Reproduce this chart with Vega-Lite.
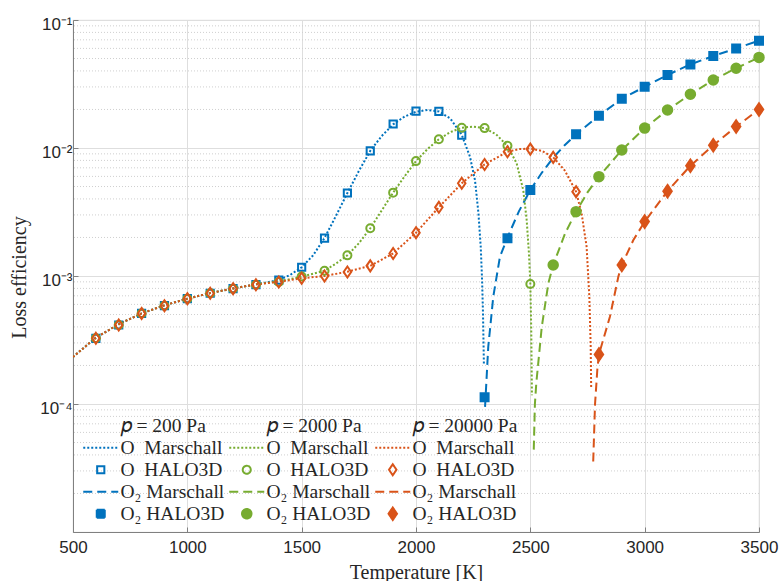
{
  "$schema": "https://vega.github.io/schema/vega-lite/v6.json",
  "width": 686,
  "height": 512,
  "autosize": {"type": "none"},
  "padding": {"left": 73, "top": 20, "right": 22, "bottom": 49},
  "background": "white",
  "config": {
    "view": {"stroke": "#e2e2e2", "strokeWidth": 1.2},
    "axis": {
      "labelFont": "Liberation Sans",
      "labelFontSize": 17,
      "labelColor": "#262626",
      "titleFont": "Liberation Serif",
      "titleFontSize": 20,
      "titleFontWeight": "normal",
      "titleColor": "#262626",
      "domainColor": "#808080",
      "gridColor": "#dedede",
      "gridWidth": 1,
      "ticks": true,
      "tickSize": -5,
      "tickColor": "#808080"
    },
    "legend": {
      "labelFont": "Liberation Serif",
      "labelFontSize": 19.5,
      "labelColor": "#262626"
    }
  },
  "datasets": {
    "minor": [
      {"v": 2e-5}, {"v": 3e-5}, {"v": 4e-5}, {"v": 5e-5}, {"v": 6e-5}, {"v": 7e-5}, {"v": 8e-5}, {"v": 9e-5},
      {"v": 2e-4}, {"v": 3e-4}, {"v": 4e-4}, {"v": 5e-4}, {"v": 6e-4}, {"v": 7e-4}, {"v": 8e-4}, {"v": 9e-4},
      {"v": 2e-3}, {"v": 3e-3}, {"v": 4e-3}, {"v": 5e-3}, {"v": 6e-3}, {"v": 7e-3}, {"v": 8e-3}, {"v": 9e-3},
      {"v": 2e-2}, {"v": 3e-2}, {"v": 4e-2}, {"v": 5e-2}, {"v": 6e-2}, {"v": 7e-2}, {"v": 8e-2}, {"v": 9e-2}
    ],
    "marschall": [
      {"k": "OM200", "T": 500, "v": 2.33e-4}, {"k": "OM200", "T": 600, "v": 3.3e-4}, {"k": "OM200", "T": 700, "v": 4.2e-4},
      {"k": "OM200", "T": 800, "v": 5.1e-4}, {"k": "OM200", "T": 900, "v": 5.9e-4}, {"k": "OM200", "T": 1000, "v": 6.65e-4},
      {"k": "OM200", "T": 1100, "v": 7.35e-4}, {"k": "OM200", "T": 1200, "v": 8.0e-4}, {"k": "OM200", "T": 1300, "v": 8.6e-4},
      {"k": "OM200", "T": 1400, "v": 9.3e-4}, {"k": "OM200", "T": 1450, "v": 1.02e-3}, {"k": "OM200", "T": 1500, "v": 1.17e-3},
      {"k": "OM200", "T": 1550, "v": 1.45e-3}, {"k": "OM200", "T": 1600, "v": 1.98e-3}, {"k": "OM200", "T": 1650, "v": 2.95e-3},
      {"k": "OM200", "T": 1700, "v": 4.45e-3}, {"k": "OM200", "T": 1750, "v": 6.6e-3}, {"k": "OM200", "T": 1800, "v": 9.5e-3},
      {"k": "OM200", "T": 1850, "v": 1.24e-2}, {"k": "OM200", "T": 1900, "v": 1.53e-2}, {"k": "OM200", "T": 1950, "v": 1.76e-2},
      {"k": "OM200", "T": 2000, "v": 1.92e-2}, {"k": "OM200", "T": 2050, "v": 1.98e-2}, {"k": "OM200", "T": 2100, "v": 1.93e-2},
      {"k": "OM200", "T": 2150, "v": 1.7e-2}, {"k": "OM200", "T": 2200, "v": 1.27e-2}, {"k": "OM200", "T": 2236, "v": 8.55e-3},
      {"k": "OM200", "T": 2258, "v": 5.6e-3}, {"k": "OM200", "T": 2273, "v": 3.1e-3}, {"k": "OM200", "T": 2283, "v": 1.7e-3},
      {"k": "OM200", "T": 2289, "v": 9.3e-4}, {"k": "OM200", "T": 2293, "v": 5.1e-4}, {"k": "OM200", "T": 2297, "v": 2.0e-4},

      {"k": "DM200", "T": 2302, "v": 9.5e-5}, {"k": "DM200", "T": 2316, "v": 2.8e-4}, {"k": "DM200", "T": 2338, "v": 6.9e-4},
      {"k": "DM200", "T": 2367, "v": 1.41e-3}, {"k": "DM200", "T": 2400, "v": 2.0e-3}, {"k": "DM200", "T": 2450, "v": 3.2e-3},
      {"k": "DM200", "T": 2500, "v": 4.7e-3}, {"k": "DM200", "T": 2550, "v": 6.4e-3}, {"k": "DM200", "T": 2600, "v": 8.4e-3},
      {"k": "DM200", "T": 2650, "v": 1.05e-2}, {"k": "DM200", "T": 2700, "v": 1.28e-2}, {"k": "DM200", "T": 2800, "v": 1.79e-2},
      {"k": "DM200", "T": 2900, "v": 2.42e-2}, {"k": "DM200", "T": 3000, "v": 3.01e-2}, {"k": "DM200", "T": 3100, "v": 3.72e-2},
      {"k": "DM200", "T": 3200, "v": 4.5e-2}, {"k": "DM200", "T": 3300, "v": 5.23e-2}, {"k": "DM200", "T": 3400, "v": 6.0e-2},
      {"k": "DM200", "T": 3500, "v": 6.9e-2},

      {"k": "OM2000", "T": 500, "v": 2.33e-4}, {"k": "OM2000", "T": 600, "v": 3.3e-4}, {"k": "OM2000", "T": 700, "v": 4.2e-4},
      {"k": "OM2000", "T": 800, "v": 5.1e-4}, {"k": "OM2000", "T": 900, "v": 5.9e-4}, {"k": "OM2000", "T": 1000, "v": 6.65e-4},
      {"k": "OM2000", "T": 1100, "v": 7.35e-4}, {"k": "OM2000", "T": 1200, "v": 8.0e-4}, {"k": "OM2000", "T": 1300, "v": 8.6e-4},
      {"k": "OM2000", "T": 1400, "v": 9.1e-4}, {"k": "OM2000", "T": 1450, "v": 9.45e-4}, {"k": "OM2000", "T": 1500, "v": 9.9e-4},
      {"k": "OM2000", "T": 1550, "v": 1.04e-3}, {"k": "OM2000", "T": 1600, "v": 1.1e-3}, {"k": "OM2000", "T": 1650, "v": 1.25e-3},
      {"k": "OM2000", "T": 1700, "v": 1.45e-3}, {"k": "OM2000", "T": 1750, "v": 1.8e-3}, {"k": "OM2000", "T": 1800, "v": 2.36e-3},
      {"k": "OM2000", "T": 1850, "v": 3.25e-3}, {"k": "OM2000", "T": 1900, "v": 4.48e-3}, {"k": "OM2000", "T": 1950, "v": 6.0e-3},
      {"k": "OM2000", "T": 2000, "v": 7.9e-3}, {"k": "OM2000", "T": 2050, "v": 9.8e-3}, {"k": "OM2000", "T": 2100, "v": 1.17e-2},
      {"k": "OM2000", "T": 2150, "v": 1.33e-2}, {"k": "OM2000", "T": 2200, "v": 1.44e-2}, {"k": "OM2000", "T": 2250, "v": 1.47e-2},
      {"k": "OM2000", "T": 2300, "v": 1.43e-2}, {"k": "OM2000", "T": 2350, "v": 1.28e-2}, {"k": "OM2000", "T": 2400, "v": 1.04e-2},
      {"k": "OM2000", "T": 2440, "v": 7.6e-3}, {"k": "OM2000", "T": 2469, "v": 4.7e-3}, {"k": "OM2000", "T": 2484, "v": 2.74e-3},
      {"k": "OM2000", "T": 2494, "v": 1.5e-3}, {"k": "OM2000", "T": 2500, "v": 8.7e-4}, {"k": "OM2000", "T": 2504, "v": 3.8e-4},
      {"k": "OM2000", "T": 2507, "v": 1.17e-4},

      {"k": "DM2000", "T": 2515, "v": 4.4e-5}, {"k": "DM2000", "T": 2520, "v": 1.0e-4}, {"k": "DM2000", "T": 2526, "v": 1.45e-4},
      {"k": "DM2000", "T": 2550, "v": 4.0e-4}, {"k": "DM2000", "T": 2579, "v": 8.8e-4}, {"k": "DM2000", "T": 2600, "v": 1.22e-3},
      {"k": "DM2000", "T": 2652, "v": 2.15e-3}, {"k": "DM2000", "T": 2700, "v": 3.18e-3}, {"k": "DM2000", "T": 2750, "v": 4.5e-3},
      {"k": "DM2000", "T": 2800, "v": 5.97e-3}, {"k": "DM2000", "T": 2900, "v": 9.64e-3}, {"k": "DM2000", "T": 3000, "v": 1.43e-2},
      {"k": "DM2000", "T": 3100, "v": 1.98e-2}, {"k": "DM2000", "T": 3200, "v": 2.63e-2}, {"k": "DM2000", "T": 3300, "v": 3.4e-2},
      {"k": "DM2000", "T": 3400, "v": 4.2e-2}, {"k": "DM2000", "T": 3500, "v": 5.1e-2},

      {"k": "OM20000", "T": 500, "v": 2.33e-4}, {"k": "OM20000", "T": 600, "v": 3.3e-4}, {"k": "OM20000", "T": 700, "v": 4.2e-4},
      {"k": "OM20000", "T": 800, "v": 5.1e-4}, {"k": "OM20000", "T": 900, "v": 5.9e-4}, {"k": "OM20000", "T": 1000, "v": 6.65e-4},
      {"k": "OM20000", "T": 1100, "v": 7.35e-4}, {"k": "OM20000", "T": 1200, "v": 8.0e-4}, {"k": "OM20000", "T": 1300, "v": 8.6e-4},
      {"k": "OM20000", "T": 1400, "v": 9.0e-4}, {"k": "OM20000", "T": 1500, "v": 9.6e-4}, {"k": "OM20000", "T": 1600, "v": 1.0e-3},
      {"k": "OM20000", "T": 1700, "v": 1.08e-3}, {"k": "OM20000", "T": 1800, "v": 1.2e-3}, {"k": "OM20000", "T": 1900, "v": 1.5e-3},
      {"k": "OM20000", "T": 2000, "v": 2.18e-3}, {"k": "OM20000", "T": 2100, "v": 3.44e-3}, {"k": "OM20000", "T": 2200, "v": 5.3e-3},
      {"k": "OM20000", "T": 2300, "v": 7.44e-3}, {"k": "OM20000", "T": 2400, "v": 9.35e-3}, {"k": "OM20000", "T": 2450, "v": 9.8e-3},
      {"k": "OM20000", "T": 2500, "v": 9.9e-3}, {"k": "OM20000", "T": 2550, "v": 9.5e-3}, {"k": "OM20000", "T": 2600, "v": 8.45e-3},
      {"k": "OM20000", "T": 2650, "v": 6.7e-3}, {"k": "OM20000", "T": 2700, "v": 4.56e-3}, {"k": "OM20000", "T": 2724, "v": 3.1e-3},
      {"k": "OM20000", "T": 2746, "v": 1.7e-3}, {"k": "OM20000", "T": 2758, "v": 6.9e-4}, {"k": "OM20000", "T": 2764, "v": 2.8e-4},
      {"k": "OM20000", "T": 2766, "v": 1.36e-4},

      {"k": "DM20000", "T": 2775, "v": 3.55e-5}, {"k": "DM20000", "T": 2783, "v": 1.0e-4}, {"k": "DM20000", "T": 2793, "v": 1.86e-4},
      {"k": "DM20000", "T": 2800, "v": 2.44e-4}, {"k": "DM20000", "T": 2848, "v": 4.8e-4}, {"k": "DM20000", "T": 2885, "v": 9.9e-4},
      {"k": "DM20000", "T": 2900, "v": 1.22e-3}, {"k": "DM20000", "T": 2950, "v": 1.9e-3}, {"k": "DM20000", "T": 3000, "v": 2.66e-3},
      {"k": "DM20000", "T": 3100, "v": 4.6e-3}, {"k": "DM20000", "T": 3200, "v": 7.27e-3}, {"k": "DM20000", "T": 3300, "v": 1.05e-2},
      {"k": "DM20000", "T": 3400, "v": 1.47e-2}, {"k": "DM20000", "T": 3500, "v": 2.0e-2}
    ],
    "halo3d": [
      {"k": "OH200", "T": 600, "v": 3.26e-4}, {"k": "OH200", "T": 700, "v": 4.14e-4}, {"k": "OH200", "T": 800, "v": 5.1e-4},
      {"k": "OH200", "T": 900, "v": 5.86e-4}, {"k": "OH200", "T": 1000, "v": 6.65e-4}, {"k": "OH200", "T": 1100, "v": 7.33e-4},
      {"k": "OH200", "T": 1200, "v": 7.96e-4}, {"k": "OH200", "T": 1300, "v": 8.55e-4}, {"k": "OH200", "T": 1400, "v": 9.3e-4},
      {"k": "OH200", "T": 1500, "v": 1.17e-3}, {"k": "OH200", "T": 1600, "v": 1.98e-3}, {"k": "OH200", "T": 1700, "v": 4.45e-3},
      {"k": "OH200", "T": 1800, "v": 9.5e-3}, {"k": "OH200", "T": 1900, "v": 1.54e-2}, {"k": "OH200", "T": 2000, "v": 1.94e-2},
      {"k": "OH200", "T": 2100, "v": 1.93e-2}, {"k": "OH200", "T": 2200, "v": 1.26e-2},

      {"k": "DH200", "T": 2300, "v": 1.13e-4}, {"k": "DH200", "T": 2400, "v": 1.97e-3}, {"k": "DH200", "T": 2500, "v": 4.7e-3},
      {"k": "DH200", "T": 2700, "v": 1.28e-2}, {"k": "DH200", "T": 2800, "v": 1.79e-2}, {"k": "DH200", "T": 2900, "v": 2.42e-2},
      {"k": "DH200", "T": 3000, "v": 3.01e-2}, {"k": "DH200", "T": 3100, "v": 3.72e-2}, {"k": "DH200", "T": 3200, "v": 4.5e-2},
      {"k": "DH200", "T": 3300, "v": 5.23e-2}, {"k": "DH200", "T": 3400, "v": 6.0e-2}, {"k": "DH200", "T": 3500, "v": 6.9e-2},

      {"k": "OH2000", "T": 600, "v": 3.26e-4}, {"k": "OH2000", "T": 700, "v": 4.14e-4}, {"k": "OH2000", "T": 800, "v": 5.1e-4},
      {"k": "OH2000", "T": 900, "v": 5.86e-4}, {"k": "OH2000", "T": 1000, "v": 6.65e-4}, {"k": "OH2000", "T": 1100, "v": 7.33e-4},
      {"k": "OH2000", "T": 1200, "v": 7.96e-4}, {"k": "OH2000", "T": 1300, "v": 8.55e-4}, {"k": "OH2000", "T": 1400, "v": 8.97e-4},
      {"k": "OH2000", "T": 1500, "v": 9.9e-4}, {"k": "OH2000", "T": 1600, "v": 1.1e-3}, {"k": "OH2000", "T": 1700, "v": 1.45e-3},
      {"k": "OH2000", "T": 1800, "v": 2.36e-3}, {"k": "OH2000", "T": 1900, "v": 4.48e-3}, {"k": "OH2000", "T": 2000, "v": 7.9e-3},
      {"k": "OH2000", "T": 2100, "v": 1.17e-2}, {"k": "OH2000", "T": 2200, "v": 1.44e-2}, {"k": "OH2000", "T": 2300, "v": 1.43e-2},
      {"k": "OH2000", "T": 2400, "v": 1.04e-2}, {"k": "OH2000", "T": 2500, "v": 8.66e-4},

      {"k": "DH2000", "T": 2600, "v": 1.22e-3}, {"k": "DH2000", "T": 2700, "v": 3.18e-3}, {"k": "DH2000", "T": 2800, "v": 5.97e-3},
      {"k": "DH2000", "T": 2900, "v": 9.64e-3}, {"k": "DH2000", "T": 3000, "v": 1.43e-2}, {"k": "DH2000", "T": 3100, "v": 1.98e-2},
      {"k": "DH2000", "T": 3200, "v": 2.63e-2}, {"k": "DH2000", "T": 3300, "v": 3.4e-2}, {"k": "DH2000", "T": 3400, "v": 4.2e-2},
      {"k": "DH2000", "T": 3500, "v": 5.1e-2},

      {"k": "OH20000", "T": 600, "v": 3.26e-4}, {"k": "OH20000", "T": 700, "v": 4.14e-4}, {"k": "OH20000", "T": 800, "v": 5.1e-4},
      {"k": "OH20000", "T": 900, "v": 5.86e-4}, {"k": "OH20000", "T": 1000, "v": 6.65e-4}, {"k": "OH20000", "T": 1100, "v": 7.33e-4},
      {"k": "OH20000", "T": 1200, "v": 7.96e-4}, {"k": "OH20000", "T": 1300, "v": 8.55e-4}, {"k": "OH20000", "T": 1400, "v": 8.97e-4},
      {"k": "OH20000", "T": 1500, "v": 9.6e-4}, {"k": "OH20000", "T": 1600, "v": 1.0e-3}, {"k": "OH20000", "T": 1700, "v": 1.075e-3},
      {"k": "OH20000", "T": 1800, "v": 1.2e-3}, {"k": "OH20000", "T": 1900, "v": 1.5e-3}, {"k": "OH20000", "T": 2000, "v": 2.18e-3},
      {"k": "OH20000", "T": 2100, "v": 3.44e-3}, {"k": "OH20000", "T": 2200, "v": 5.3e-3}, {"k": "OH20000", "T": 2300, "v": 7.44e-3},
      {"k": "OH20000", "T": 2400, "v": 9.35e-3}, {"k": "OH20000", "T": 2500, "v": 9.8e-3}, {"k": "OH20000", "T": 2600, "v": 8.45e-3},
      {"k": "OH20000", "T": 2700, "v": 4.56e-3},

      {"k": "DH20000", "T": 2800, "v": 2.44e-4}, {"k": "DH20000", "T": 2900, "v": 1.22e-3}, {"k": "DH20000", "T": 3000, "v": 2.66e-3},
      {"k": "DH20000", "T": 3100, "v": 4.6e-3}, {"k": "DH20000", "T": 3200, "v": 7.27e-3}, {"k": "DH20000", "T": 3300, "v": 1.05e-2},
      {"k": "DH20000", "T": 3400, "v": 1.47e-2}, {"k": "DH20000", "T": 3500, "v": 2.0e-2}
    ]
  },
  "layer": [
    {
      "data": {"name": "minor"},
      "mark": {"type": "rule", "color": "#cfcfcf", "strokeWidth": 1, "strokeDash": [1, 2]},
      "encoding": {
        "y": {
          "field": "v", "type": "quantitative",
          "scale": {"type": "log", "domain": [1e-5, 1e-1], "nice": false},
          "axis": {
            "title": "Loss efficiency",
            "values": [1e-4, 1e-3, 1e-2, 1e-1],
            "labelExpr": "datum.value < 2e-4 ? '10⁻⁴' : datum.value < 2e-3 ? '10⁻³' : datum.value < 2e-2 ? '10⁻²' : '10⁻¹'",
            "labelPadding": 6,
            "labelOffset": 4,
            "titleAngle": -90,
            "titleX": -48,
            "titleY": 257,
            "titleBaseline": "alphabetic",
            "titleAlign": "center",
            "grid": true
          }
        }
      }
    },
    {
      "data": {"name": "marschall"},
      "mark": {"type": "line", "strokeWidth": 2, "clip": true},
      "encoding": {
        "x": {
          "field": "T", "type": "quantitative",
          "scale": {"domain": [500, 3500], "nice": false, "zero": false},
          "axis": {
            "title": "Temperature [K]",
            "values": [500, 1000, 1500, 2000, 2500, 3000, 3500],
            "format": "d",
            "labelPadding": 12,
            "labelFlush": false,
            "titleY": 46,
            "titleBaseline": "alphabetic",
            "grid": true
          }
        },
        "y": {
          "field": "v", "type": "quantitative",
          "scale": {"type": "log", "domain": [1e-5, 1e-1], "nice": false},
          "axis": {
            "title": "Loss efficiency",
            "values": [1e-4, 1e-3, 1e-2, 1e-1],
            "labelExpr": "datum.value < 2e-4 ? '10⁻⁴' : datum.value < 2e-3 ? '10⁻³' : datum.value < 2e-2 ? '10⁻²' : '10⁻¹'",
            "labelPadding": 6,
            "labelOffset": 4,
            "titleAngle": -90,
            "titleX": -48,
            "titleY": 257,
            "titleBaseline": "alphabetic",
            "titleAlign": "center",
            "grid": true
          }
        },
        "stroke": {
          "field": "k", "type": "nominal",
          "scale": {
            "domain": ["h200", "OM200", "OH200", "DM200", "DH200", "h2000", "OM2000", "OH2000", "DM2000", "DH2000", "h20000", "OM20000", "OH20000", "DM20000", "DH20000"],
            "range": ["transparent", "#0072BD", "#0072BD", "#0072BD", "#0072BD", "transparent", "#77AC30", "#77AC30", "#77AC30", "#77AC30", "transparent", "#D95319", "#D95319", "#D95319", "#D95319"]
          },
          "legend": {
            "title": null, "orient": "none", "legendX": 18, "legendY": 396, "columns": 3,
            "columnPadding": 0, "rowPadding": 1, "symbolSize": 100, "symbolStrokeWidth": 2,
            "symbolOffset": 0, "labelOffset": 10, "labelBaseline": "middle", "padding": 0,
            "labelExpr": "slice(datum.value,0,1)=='h' ? '𝑝 = ' + slice(datum.value,1) + ' Pa' : slice(datum.value,0,2)=='OM' ? 'O\u00a0\u00a0Marschall' : slice(datum.value,0,2)=='OH' ? 'O\u00a0\u00a0HALO3D' : slice(datum.value,0,2)=='DM' ? 'O₂ Marschall' : 'O₂ HALO3D'"
          }
        },
        "strokeDash": {
          "field": "k", "type": "nominal",
          "scale": {
            "domain": ["h200", "OM200", "OH200", "DM200", "DH200", "h2000", "OM2000", "OH2000", "DM2000", "DH2000", "h20000", "OM20000", "OH20000", "DM20000", "DH20000"],
            "range": [[1, 0], [2, 2], [1, 0], [9, 5], [1, 0], [1, 0], [2, 2], [1, 0], [9, 5], [1, 0], [1, 0], [2, 2], [1, 0], [9, 5], [1, 0]]
          },
          "legend": {
            "title": null, "orient": "none", "legendX": 18, "legendY": 396, "columns": 3,
            "columnPadding": 0, "rowPadding": 1, "symbolSize": 100, "symbolStrokeWidth": 2,
            "symbolOffset": 0, "labelOffset": 10, "labelBaseline": "middle", "padding": 0,
            "labelExpr": "slice(datum.value,0,1)=='h' ? '𝑝 = ' + slice(datum.value,1) + ' Pa' : slice(datum.value,0,2)=='OM' ? 'O\u00a0\u00a0Marschall' : slice(datum.value,0,2)=='OH' ? 'O\u00a0\u00a0HALO3D' : slice(datum.value,0,2)=='DM' ? 'O₂ Marschall' : 'O₂ HALO3D'"
          }
        }
      }
    },
    {
      "data": {"name": "halo3d"},
      "mark": {"type": "point", "filled": true, "opacity": 1, "strokeWidth": 2, "size": 100},
      "encoding": {
        "x": {
          "field": "T", "type": "quantitative",
          "scale": {"domain": [500, 3500], "nice": false, "zero": false},
          "axis": {
            "title": "Temperature [K]",
            "values": [500, 1000, 1500, 2000, 2500, 3000, 3500],
            "format": "d",
            "labelPadding": 12,
            "labelFlush": false,
            "titleY": 46,
            "titleBaseline": "alphabetic",
            "grid": true
          }
        },
        "y": {
          "field": "v", "type": "quantitative",
          "scale": {"type": "log", "domain": [1e-5, 1e-1], "nice": false},
          "axis": {
            "title": "Loss efficiency",
            "values": [1e-4, 1e-3, 1e-2, 1e-1],
            "labelExpr": "datum.value < 2e-4 ? '10⁻⁴' : datum.value < 2e-3 ? '10⁻³' : datum.value < 2e-2 ? '10⁻²' : '10⁻¹'",
            "labelPadding": 6,
            "labelOffset": 4,
            "titleAngle": -90,
            "titleX": -48,
            "titleY": 257,
            "titleBaseline": "alphabetic",
            "titleAlign": "center",
            "grid": true
          }
        },
        "stroke": {
          "field": "k", "type": "nominal",
          "scale": {
            "domain": ["h200", "OM200", "OH200", "DM200", "DH200", "h2000", "OM2000", "OH2000", "DM2000", "DH2000", "h20000", "OM20000", "OH20000", "DM20000", "DH20000"],
            "range": ["transparent", "#0072BD", "#0072BD", "#0072BD", "#0072BD", "transparent", "#77AC30", "#77AC30", "#77AC30", "#77AC30", "transparent", "#D95319", "#D95319", "#D95319", "#D95319"]
          },
          "legend": {
            "title": null, "orient": "none", "legendX": 18, "legendY": 396, "columns": 3,
            "columnPadding": 0, "rowPadding": 1, "symbolSize": 100, "symbolStrokeWidth": 2,
            "symbolOffset": 0, "labelOffset": 10, "labelBaseline": "middle", "padding": 0,
            "labelExpr": "slice(datum.value,0,1)=='h' ? '𝑝 = ' + slice(datum.value,1) + ' Pa' : slice(datum.value,0,2)=='OM' ? 'O\u00a0\u00a0Marschall' : slice(datum.value,0,2)=='OH' ? 'O\u00a0\u00a0HALO3D' : slice(datum.value,0,2)=='DM' ? 'O₂ Marschall' : 'O₂ HALO3D'"
          }
        },
        "fill": {
          "field": "k", "type": "nominal",
          "scale": {
            "domain": ["h200", "OM200", "OH200", "DM200", "DH200", "h2000", "OM2000", "OH2000", "DM2000", "DH2000", "h20000", "OM20000", "OH20000", "DM20000", "DH20000"],
            "range": ["transparent", "transparent", "transparent", "transparent", "#0072BD", "transparent", "transparent", "transparent", "transparent", "#77AC30", "transparent", "transparent", "transparent", "transparent", "#D95319"]
          },
          "legend": {
            "title": null, "orient": "none", "legendX": 18, "legendY": 396, "columns": 3,
            "columnPadding": 0, "rowPadding": 1, "symbolSize": 100, "symbolStrokeWidth": 2,
            "symbolOffset": 0, "labelOffset": 10, "labelBaseline": "middle", "padding": 0,
            "labelExpr": "slice(datum.value,0,1)=='h' ? '𝑝 = ' + slice(datum.value,1) + ' Pa' : slice(datum.value,0,2)=='OM' ? 'O\u00a0\u00a0Marschall' : slice(datum.value,0,2)=='OH' ? 'O\u00a0\u00a0HALO3D' : slice(datum.value,0,2)=='DM' ? 'O₂ Marschall' : 'O₂ HALO3D'"
          }
        },
        "shape": {
          "field": "k", "type": "nominal",
          "scale": {
            "domain": ["h200", "OM200", "OH200", "DM200", "DH200", "h2000", "OM2000", "OH2000", "DM2000", "DH2000", "h20000", "OM20000", "OH20000", "DM20000", "DH20000"],
            "range": [
              "circle", "M-3.5,0H3.5", "M-0.72,-0.72H0.72V0.72H-0.72Z", "M-3.5,0H3.5", "M-0.8,-0.8H0.8V0.8H-0.8Z",
              "circle", "M-3.5,0H3.5", "M-0.8,0A0.8,0.8,0,1,1,0.8,0A0.8,0.8,0,1,1,-0.8,0Z", "M-3.5,0H3.5", "M-0.95,0A0.95,0.95,0,1,1,0.95,0A0.95,0.95,0,1,1,-0.95,0Z",
              "circle", "M-3.5,0H3.5", "M0,-1.1L0.75,0L0,1.1L-0.75,0Z", "M-3.5,0H3.5", "M0,-1.25L0.85,0L0,1.25L-0.85,0Z"
            ]
          },
          "legend": {
            "title": null, "orient": "none", "legendX": 18, "legendY": 396, "columns": 3,
            "columnPadding": 0, "rowPadding": 1, "symbolSize": 100, "symbolStrokeWidth": 2,
            "symbolOffset": 0, "labelOffset": 10, "labelBaseline": "middle", "padding": 0,
            "labelExpr": "slice(datum.value,0,1)=='h' ? '𝑝 = ' + slice(datum.value,1) + ' Pa' : slice(datum.value,0,2)=='OM' ? 'O\u00a0\u00a0Marschall' : slice(datum.value,0,2)=='OH' ? 'O\u00a0\u00a0HALO3D' : slice(datum.value,0,2)=='DM' ? 'O₂ Marschall' : 'O₂ HALO3D'"
          }
        }
      }
    }
  ]
}
